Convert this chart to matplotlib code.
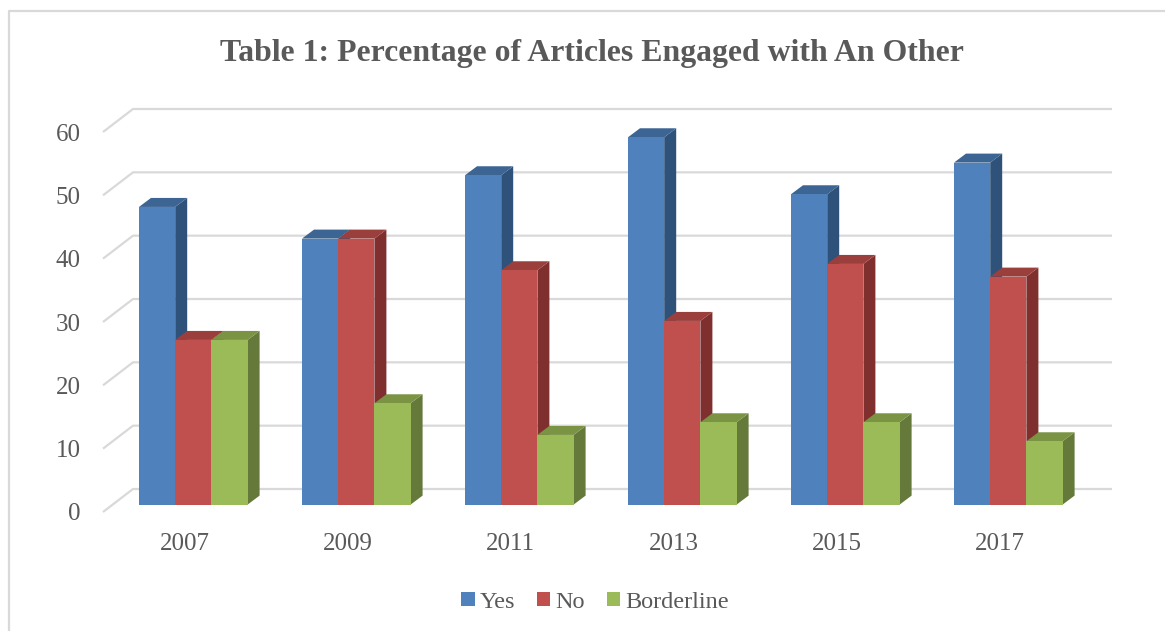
import matplotlib
matplotlib.use("Agg")
import matplotlib.pyplot as plt
from matplotlib.lines import Line2D
from matplotlib.patches import Polygon
from matplotlib.transforms import Affine2D

years = ["2007", "2009", "2011", "2013", "2015", "2017"]
yes = [47, 42, 52, 58, 49, 54]
no = [26, 42, 37, 29, 38, 36]
borderline = [26, 16, 11, 13, 13, 10]
y_ticks = [0, 10, 20, 30, 40, 50, 60]

W, H = 1165, 631
TEXT = "#595959"
GRID = "#d9d9d9"

# series: name, values, front / top / side colours
series = [
    ("Yes", yes, "#4f81bd", "#3c6594", "#2f527a"),
    ("No", no, "#c0504d", "#9b3f3d", "#7f302e"),
    ("Borderline", borderline, "#9bbb59", "#7a9444", "#657a3a"),
]

plt.rcParams["font.family"] = ["Liberation Serif", "DejaVu Serif"]

fig = plt.figure(figsize=(W / 100, H / 100), dpi=100)
ax = fig.add_axes([103 / W, 1 - 512 / H, 978 / W, 380 / H])
ax.set_xlim(-0.5, 5.5)
ax.set_ylim(0, 60)
for s in ax.spines.values():
    s.set_visible(False)
ax.patch.set_visible(False)

# px -> data helpers for the fake 3d depth
ux = 978 / 6
uy = 380 / 60

# back wall grid with the diagonal on the left
for v in y_ticks:
    ax.plot(
        [-0.5, -0.5 + 30 / ux, 5.5 + 31 / ux],
        [v, v + 23 / uy, v + 23 / uy],
        color=GRID, lw=1.6, clip_on=False, zorder=1, solid_capstyle="butt",
    )

# bars sit a bit behind the front plane (about 7 px up)
shift = ax.transData + Affine2D().translate(-0.7, 7.4)
bar_w = 36.2 / ux
dx = 12 / ux
dy = 9 / uy
x0 = 9.5 / ux - bar_w

z = 2
for i in range(len(years)):
    for j, (name, vals, front, top, side) in enumerate(series):
        left = i + x0 + (j - 0.5) * bar_w
        right = left + bar_w
        v = vals[i]
        ax.add_patch(Polygon(
            [(right, 0), (right + dx, dy), (right + dx, v + dy), (right, v)],
            facecolor=side, edgecolor="none", transform=shift, clip_on=False, zorder=z,
        ))
        ax.add_patch(Polygon(
            [(left, v), (left + dx, v + dy), (right + dx, v + dy), (right, v)],
            facecolor=top, edgecolor="none", transform=shift, clip_on=False, zorder=z,
        ))
        ax.bar(
            left, v, width=bar_w, align="edge", color=front, transform=shift,
            clip_on=False, zorder=z + 0.5, label=name if i == 0 else None,
        )
        z += 1

ax.set_xticks(range(len(years)), years)
ax.set_yticks(y_ticks)
ax.tick_params(axis="x", length=0, pad=15, labelsize=18, labelcolor=TEXT)
ax.tick_params(axis="y", length=0, pad=16, labelsize=18, labelcolor=TEXT)

fig.text(591.5 / W, 1 - 53 / H, "Table 1: Percentage of Articles Engaged with An Other",
         ha="center", va="center", fontsize=22.9, fontweight="bold", color=TEXT)

fig.legend(
    loc="center", bbox_to_anchor=(595 / W, 1 - 602 / H), ncol=3, frameon=False,
    fontsize=17.5, labelcolor=TEXT, handlelength=0.55, handleheight=0.55,
    handletextpad=0.2, columnspacing=0.9,
)

# outer chart frame, only top and left are in the crop
fig.add_artist(Line2D([9 / W, 9 / W, 1], [0, 1 - 11 / H, 1 - 11 / H], color=GRID, lw=1.6))

fig.savefig("out.png", dpi=100)
